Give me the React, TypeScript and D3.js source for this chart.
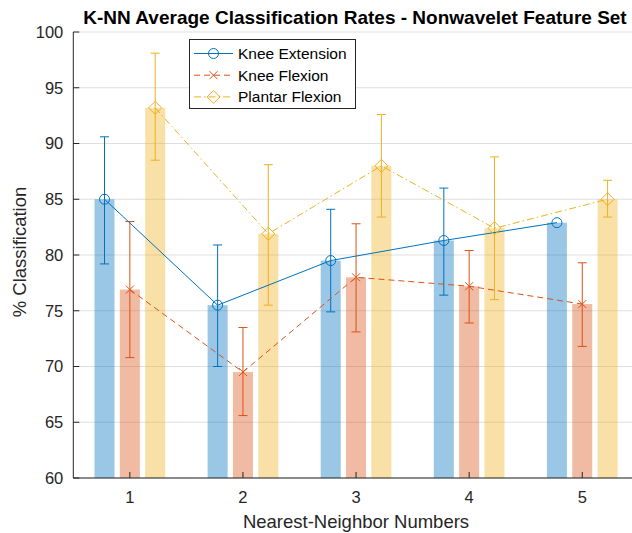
import * as d3 from "d3";

const categories = [1, 2, 3, 4, 5];
const seriesNames = ["Knee Extension", "Knee Flexion", "Plantar Flexion"];

const extMean = [85.0, 75.5, 79.5, 81.3, 82.9];
const extLow = [79.2, 70.0, 74.9, 76.4, 82.9];
const extHigh = [90.6, 80.9, 84.1, 86.0, 82.9];

const flexMean = [76.9, 69.5, 78.0, 77.2, 75.6];
const flexLow = [70.8, 65.6, 73.1, 73.9, 71.8];
const flexHigh = [83.0, 73.5, 82.8, 80.4, 79.3];

const plantMean = [93.2, 81.9, 88.0, 82.4, 85.0];
const plantLow = [88.5, 75.5, 83.4, 76.0, 83.4];
const plantHigh = [98.1, 88.1, 92.6, 88.8, 86.7];

const yTicks = [60, 65, 70, 75, 80, 85, 90, 95, 100];

const colors = ["#0072BD", "#D95319", "#EDB120"];
const dashes = ["none", "6,4", "7,3,1.5,3"];
const offsets = [-0.224, 0, 0.224];
const barW = 0.177;

const W = 632;
const H = 533;
const left = 73.3;
const bottom = 478;
const top = 32;

const font = "'Liberation Sans', Arial, Helvetica, sans-serif";
const txt = "#262626";

function Marker({ kind, x, y, color }: { kind: number; x: number; y: number; color: string }) {
  if (kind === 0) return <circle cx={x} cy={y} r={5} fill="none" stroke={color} strokeWidth={1} />;
  if (kind === 1)
    return (
      <path
        d={`M${x - 4},${y - 4}L${x + 4},${y + 4}M${x - 4},${y + 4}L${x + 4},${y - 4}`}
        stroke={color}
        strokeWidth={1}
      />
    );
  return (
    <path d={`M${x},${y - 6.5}L${x + 6.5},${y}L${x},${y + 6.5}L${x - 6.5},${y}Z`} fill="none" stroke={color} strokeWidth={1} />
  );
}

export default function App() {
  const x = d3.scaleLinear().domain([0.5, 5.5]).range([left, 638.8]);
  const y = d3.scaleLinear().domain([60, 100]).range([bottom, top]);

  const series = [
    { mean: extMean, low: extLow, high: extHigh },
    { mean: flexMean, low: flexLow, high: flexHigh },
    { mean: plantMean, low: plantLow, high: plantHigh },
  ];

  const line = d3
    .line<[number, number]>()
    .x((d) => d[0])
    .y((d) => d[1]);

  const bw = x(barW) - x(0);

  return (
    <svg width={W} height={H} style={{ position: "absolute", left: 0, top: 0, background: "#fff" }} fontFamily={font}>
      {/* grid */}
      {yTicks.map((t) => (
        <line key={"g" + t} x1={left} x2={W} y1={y(t)} y2={y(t)} stroke="#dfdfdf" strokeWidth={1} />
      ))}

      {/* bars */}
      {series.map((s, si) =>
        categories.map((c, i) => (
          <rect
            key={`b${si}-${i}`}
            x={x(c + offsets[si]) - bw / 2}
            y={y(s.mean[i])}
            width={bw}
            height={y(60) - y(s.mean[i])}
            fill={colors[si]}
            fillOpacity={0.4}
          />
        ))
      )}

      {/* error bars */}
      {series.map((s, si) =>
        categories.map((c, i) => {
          if (s.high[i] - s.low[i] < 0.01) return null;
          const cx = x(c + offsets[si]);
          return (
            <g key={`e${si}-${i}`} stroke={colors[si]} strokeWidth={1}>
              <line x1={cx} x2={cx} y1={y(s.low[i])} y2={y(s.high[i])} />
              <line x1={cx - 4.5} x2={cx + 4.5} y1={y(s.low[i])} y2={y(s.low[i])} />
              <line x1={cx - 4.5} x2={cx + 4.5} y1={y(s.high[i])} y2={y(s.high[i])} />
            </g>
          );
        })
      )}

      {/* lines */}
      {series.map((s, si) => (
        <path
          key={"l" + si}
          d={line(categories.map((c, i) => [x(c + offsets[si]), y(s.mean[i])])) || ""}
          fill="none"
          stroke={colors[si]}
          strokeWidth={1}
          strokeDasharray={dashes[si]}
        />
      ))}
      {series.map((s, si) =>
        categories.map((c, i) => (
          <Marker key={`m${si}-${i}`} kind={si} x={x(c + offsets[si])} y={y(s.mean[i])} color={colors[si]} />
        ))
      )}

      {/* axes */}
      <line x1={left} x2={left} y1={top} y2={bottom} stroke={txt} strokeWidth={1} />
      <line x1={left} x2={W} y1={bottom} y2={bottom} stroke={txt} strokeWidth={1} />
      {yTicks.map((t) => (
        <g key={"yt" + t}>
          <line x1={left} x2={left + 6} y1={y(t)} y2={y(t)} stroke={txt} />
          <text x={left - 10} y={y(t)} dy="0.35em" textAnchor="end" fontSize={16.5} fill={txt}>
            {t}
          </text>
        </g>
      ))}
      {categories.map((c) => (
        <g key={"xt" + c}>
          <line x1={x(c)} x2={x(c)} y1={bottom} y2={bottom - 6} stroke={txt} />
          <text x={x(c)} y={bottom + 25} textAnchor="middle" fontSize={16.5} fill={txt}>
            {c}
          </text>
        </g>
      ))}

      <text x={356} y={528} textAnchor="middle" fontSize={18.5} fill={txt}>
        Nearest-Neighbor Numbers
      </text>
      <text transform={`translate(25.5,252) rotate(-90)`} textAnchor="middle" fontSize={18.5} fill={txt}>
        % Classification
      </text>
      <text x={355} y={24} textAnchor="middle" fontSize={19} fontWeight="bold" fill="#000">
        K-NN Average Classification Rates - Nonwavelet Feature Set
      </text>

      {/* legend */}
      <g>
        <rect x={189.5} y={39.5} width={166} height={69} fill="#fff" stroke={txt} strokeWidth={1} />
        {seriesNames.map((n, si) => {
          const ly = 53.5 + si * 21.7;
          return (
            <g key={"lg" + si}>
              <line x1={194} x2={233} y1={ly} y2={ly} stroke={colors[si]} strokeWidth={1} strokeDasharray={dashes[si]} />
              <Marker kind={si} x={213.5} y={ly} color={colors[si]} />
              <text x={238} y={ly} dy="0.35em" fontSize={15.5} fill="#000">
                {n}
              </text>
            </g>
          );
        })}
      </g>
    </svg>
  );
}
